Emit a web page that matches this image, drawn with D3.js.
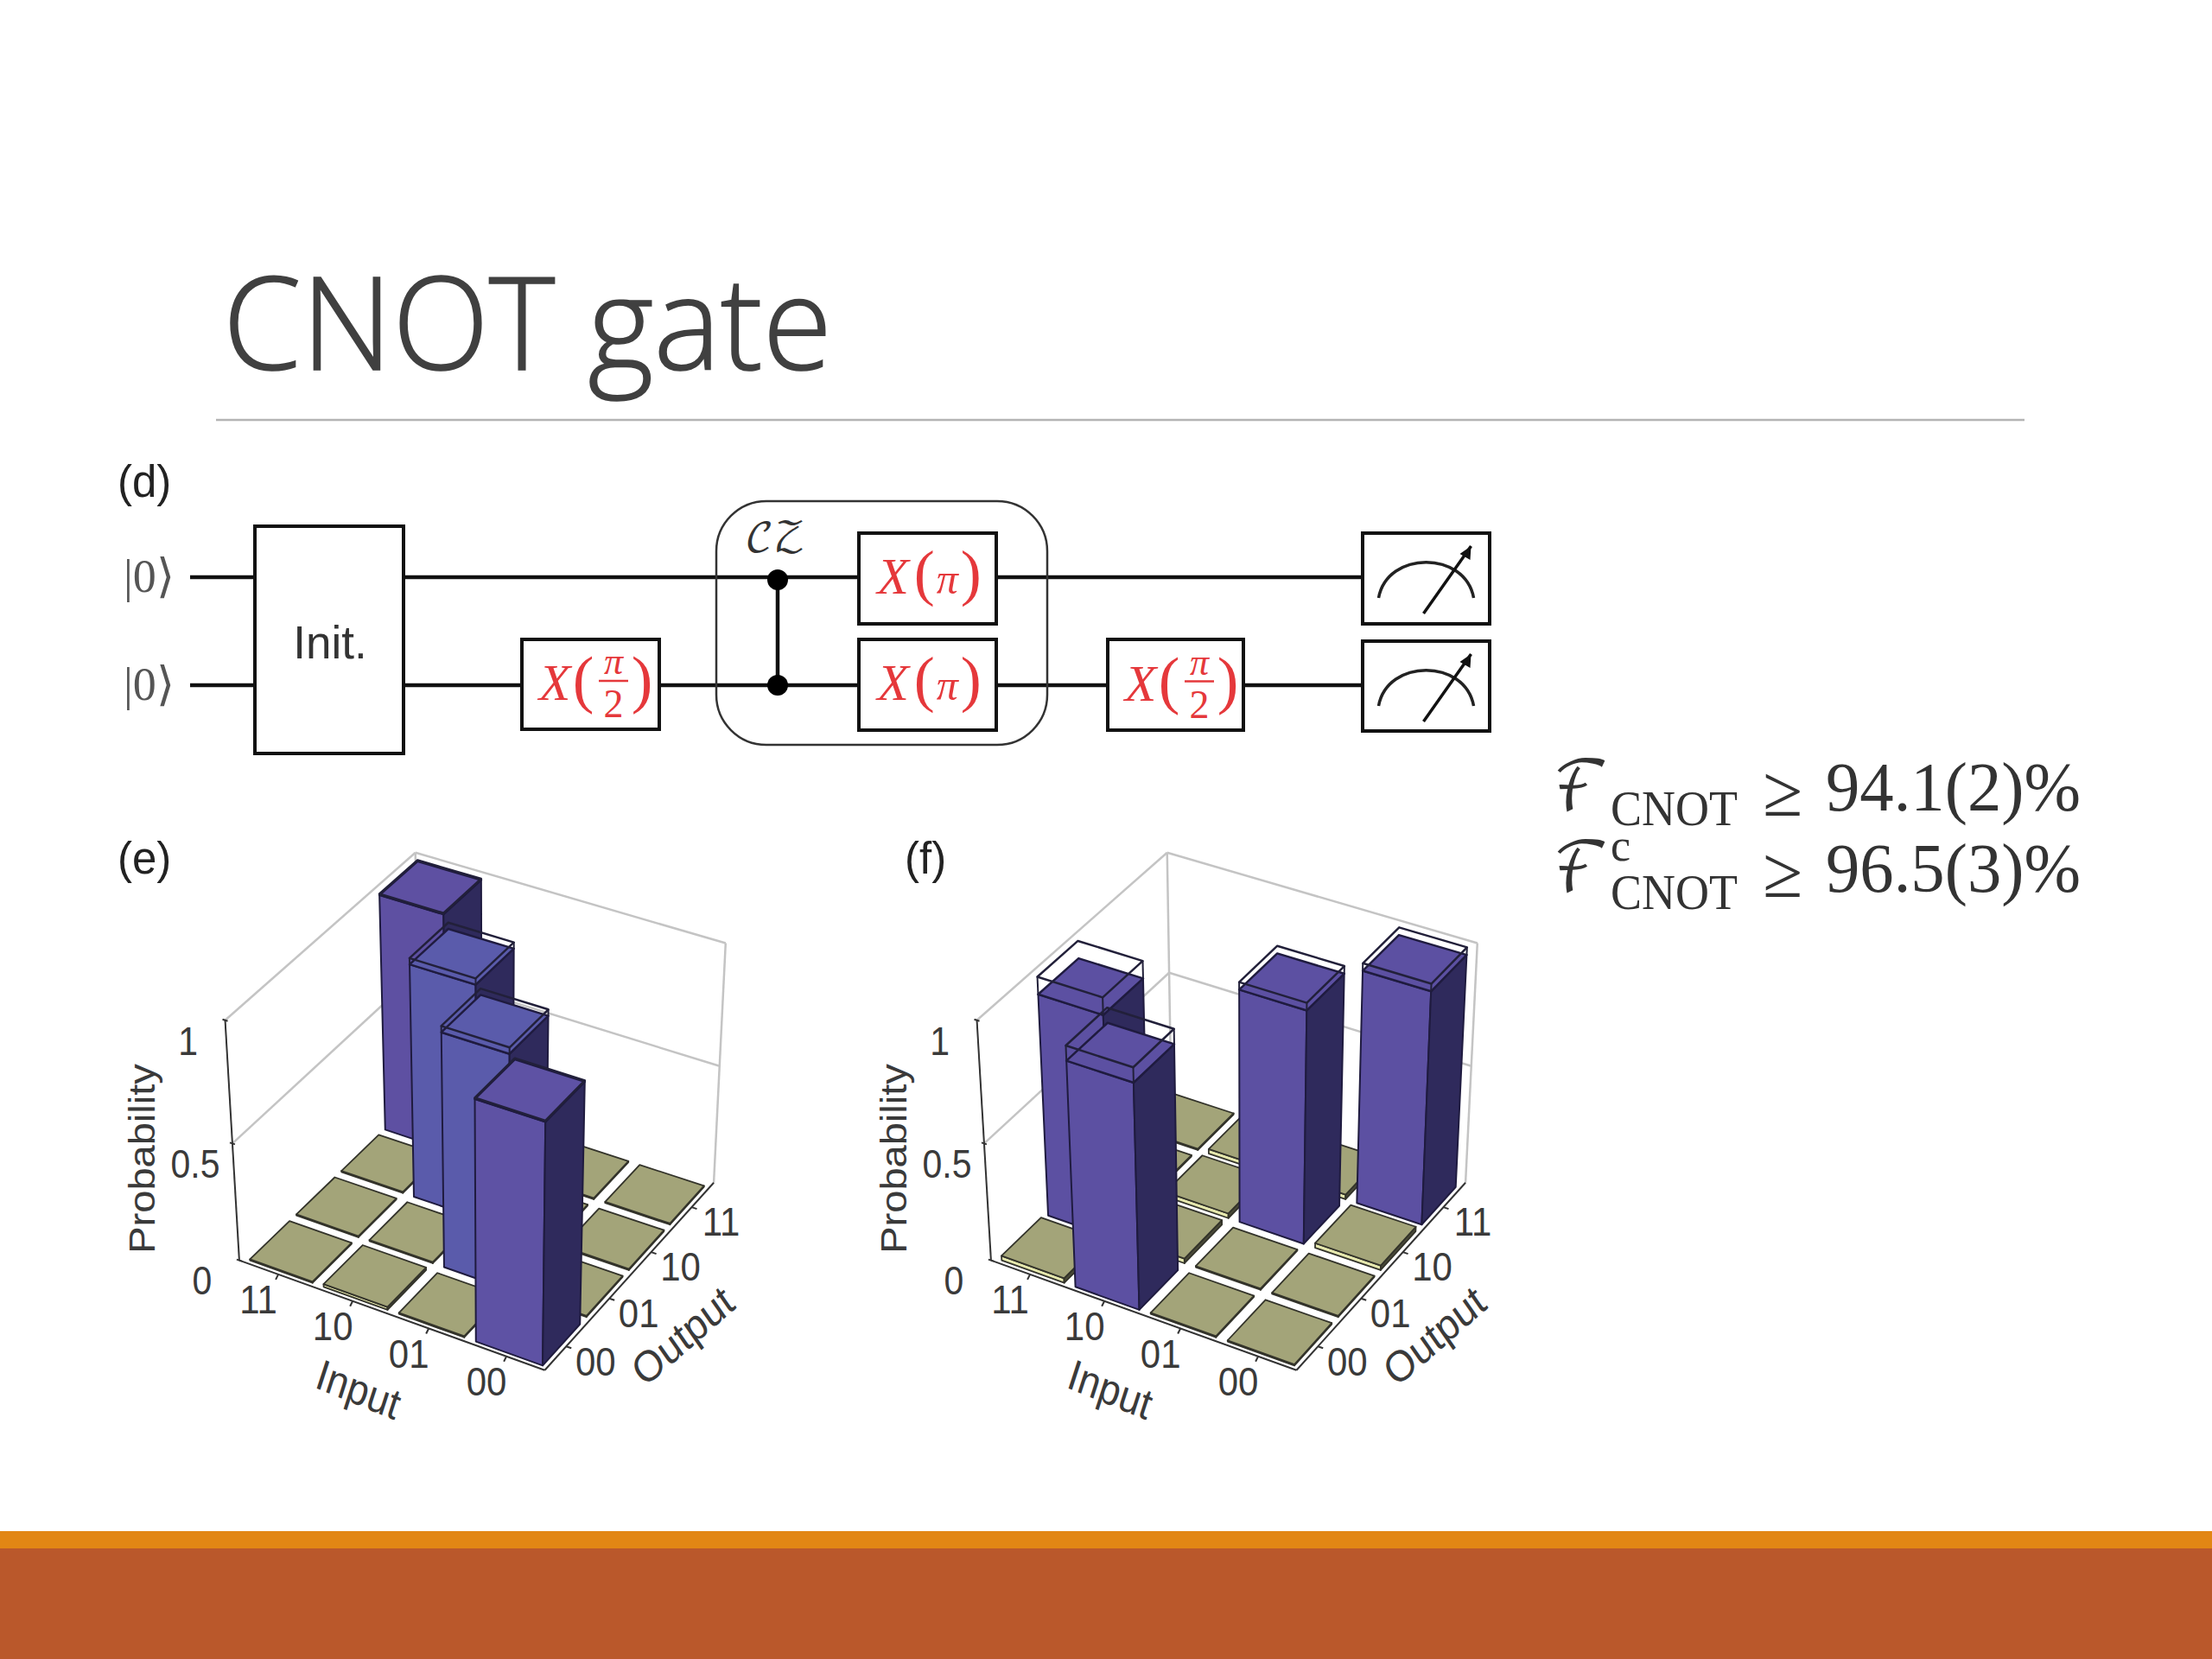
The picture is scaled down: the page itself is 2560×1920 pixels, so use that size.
<!DOCTYPE html>
<html>
<head>
<meta charset="utf-8">
<script src="https://cdn.jsdelivr.net/npm/d3@7"></script>
<style>
  html, body { margin: 0; background: #fff; }
  svg { display: block; }
  text { font-family: "Liberation Sans", Arial, sans-serif; }
  .serif { font-family: "Liberation Serif", "Times New Roman", serif; }
</style>
</head>
<body>
<svg id="slide" width="2560" height="1920"></svg>
<script>
// categories and tick labels
const inputLabels = ["11", "10", "01", "00"];
const outputLabels = ["00", "01", "10", "11"];
const zTicks = [0, 0.5, 1];
const zTickLabels = ["0", "0.5", "1"];

// measured probabilities, one row per input, columns follow outputLabels
const probE11 = [0.005, 0.005, 0.005, 0.995];
const probE10 = [0.012, 0.005, 0.975, 0.005];
const probE01 = [0.005, 0.975, 0.005, 0.005];
const probE00 = [0.995, 0.005, 0.005, 0.005];

const probF11 = [0.02, 0.93, 0.005, 0.005];
const probF10 = [0.94, 0.02, 0.02, 0.02];
const probF01 = [0.005, 0.005, 0.97, 0.02];
const probF00 = [0.005, 0.005, 0.02, 0.97];

// ideal truth tables, input -> output
const idealE = { "11": "11", "10": "10", "01": "01", "00": "00" };
const idealF = { "11": "01", "10": "00", "01": "10", "00": "11" };

const svg = d3.select("#slide");

// slide background
svg.append("rect").attr("width", 2560).attr("height", 1920).attr("fill", "#fff");
svg.append("rect").attr("x", 0).attr("y", 1772).attr("width", 2560).attr("height", 20).attr("fill", "#e28614");
svg.append("rect").attr("x", 0).attr("y", 1792).attr("width", 2560).attr("height", 128).attr("fill", "#ba582b");
svg.append("text").text("CNOT gate")
  .attr("transform", "translate(258,428) scale(1,1.07)")
  .attr("textLength", 705).attr("lengthAdjust", "spacingAndGlyphs")
  .style("font-family", "'Open Sans'").style("font-weight", 300).style("font-size", "139px")
  .attr("fill", "#404040").attr("stroke", "#404040").attr("stroke-width", 1.5);
svg.append("line").attr("x1", 250).attr("x2", 2343).attr("y1", 486).attr("y2", 486)
  .attr("stroke", "#b4b4b4").attr("stroke-width", 2.5);

// --- projection of the 3d box, fitted to its corners ---
const cornerFit = [
  // u, v, z, screen x, screen y  (u: input axis, v: output axis)
  [0, 0, 0, 277.6, 1458.5],
  [1, 0, 0, 633.2, 1587.5],
  [1, 1, 0, 824.5, 1367],
  [0, 1, 0, 483.7, 1258],
  [0, 0, 1, 260.7, 1182],
  [1, 0, 1, 630, 1299],
  [1, 1, 1, 842.3, 1094.5],
  [0, 1, 1, 481.6, 985.5]
];

function solve(A, b) {
  const n = b.length;
  const M = A.map((row, i) => row.concat(b[i]));
  for (let c = 0; c < n; c++) {
    let p = c;
    for (let r = c + 1; r < n; r++) if (Math.abs(M[r][c]) > Math.abs(M[p][c])) p = r;
    [M[c], M[p]] = [M[p], M[c]];
    for (let r = 0; r < n; r++) {
      if (r === c) continue;
      const f = M[r][c] / M[c][c];
      for (let k = c; k <= n; k++) M[r][k] -= f * M[c][k];
    }
  }
  return M.map((row, i) => row[n] / row[i]);
}

function fitProjection(points) {
  const rows = [], rhs = [];
  points.forEach(([u, v, z, sx, sy]) => {
    const x = sx / 1000, y = sy / 1000;
    rows.push([u, v, z, 1, 0, 0, 0, 0, -x * u, -x * v, -x * z]); rhs.push(x);
    rows.push([0, 0, 0, 0, u, v, z, 1, -y * u, -y * v, -y * z]); rhs.push(y);
  });
  const n = 11;
  const AtA = d3.range(n).map(i => d3.range(n).map(j => d3.sum(rows, r => r[i] * r[j])));
  const Atb = d3.range(n).map(i => d3.sum(rows, (r, k) => r[i] * rhs[k]));
  const p = solve(AtA, Atb);
  return (u, v, z) => {
    const w = p[8] * u + p[9] * v + p[10] * z + 1;
    return [
      1000 * (p[0] * u + p[1] * v + p[2] * z + p[3]) / w,
      1000 * (p[4] * u + p[5] * v + p[6] * z + p[7]) / w
    ];
  };
}

const project = fitProjection(cornerFit);
const inputScale = d3.scaleBand().domain(inputLabels).range([0.012, 1]).paddingInner(0.15).paddingOuter(0.06);
const outputScale = d3.scaleBand().domain(outputLabels).range([0, 0.982]).paddingInner(0.15).paddingOuter(0.06);
const zScale = d3.scaleLinear().domain([0, 1]).range([0, 1]);
const polyPath = d3.line();

function drawBars(panel, rows, ideal, frontColor) {
  const cells = [];
  inputLabels.forEach((input, i) => {
    outputLabels.forEach((output, j) => {
      cells.push({ input, output, value: rows[i][j], ideal: ideal[input] === output, depth: inputScale(input) - outputScale(output) });
    });
  });
  cells.sort((a, b) => a.depth - b.depth);

  const prism = (u0, u1, v0, v1, z) => ({
    top: [project(u0, v0, z), project(u1, v0, z), project(u1, v1, z), project(u0, v1, z)],
    front: [project(u0, v0, 0), project(u1, v0, 0), project(u1, v0, z), project(u0, v0, z)],
    side: [project(u1, v0, 0), project(u1, v1, 0), project(u1, v1, z), project(u1, v0, z)]
  });
  const face = (pts, fill, stroke, width) => panel.append("path")
    .attr("d", polyPath(pts) + "Z").attr("fill", fill)
    .attr("stroke", stroke).attr("stroke-width", width).attr("stroke-linejoin", "round");

  cells.forEach(c => {
    const u0 = inputScale(c.input), u1 = u0 + inputScale.bandwidth();
    const v0 = outputScale(c.output), v1 = v0 + outputScale.bandwidth();
    const p = prism(u0, u1, v0, v1, zScale(c.value));
    if (c.ideal) {
      face(p.front, frontColor(c.input), "#1f1b3f", 2);
      face(p.side, "#2f2a5c", "#1f1b3f", 2);
      face(p.top, frontColor(c.input), "#1f1b3f", 2.5);
      const w = prism(u0, u1, v0, v1, zScale(1));
      face(w.top, "none", "#22203a", 2.5);
      [[u0, v0], [u1, v0], [u1, v1]].forEach(([u, v]) => {
        panel.append("line")
          .attr("x1", project(u, v, zScale(c.value))[0]).attr("y1", project(u, v, zScale(c.value))[1])
          .attr("x2", project(u, v, zScale(1))[0]).attr("y2", project(u, v, zScale(1))[1])
          .attr("stroke", "#22203a").attr("stroke-width", 2);
      });
    } else {
      face(p.front, "#e6e8ae", "#33332a", 1.8);
      face(p.side, "#4a4a38", "#33332a", 1.8);
      face(p.top, "#a3a479", "#33332a", 1.8);
    }
  });
}

function stretched(panel, label, x, y, rot, size) {
  panel.append("text").text(label)
    .attr("transform", `translate(${x},${y}) scale(1,1.12) rotate(${rot})`)
    .attr("text-anchor", "middle").attr("dominant-baseline", "central")
    .style("font-size", size + "px").attr("fill", "#3a3a3a");
}

function drawPanel(offsetX, tag, tagX, rows, ideal, frontColor) {
  const panel = svg.append("g").attr("transform", `translate(${offsetX},0)`);
  const wall = (a, b, color, width) => panel.append("line")
    .attr("x1", a[0]).attr("y1", a[1]).attr("x2", b[0]).attr("y2", b[1])
    .attr("stroke", color).attr("stroke-width", width);

  // back walls
  const grey = "#c4c4c4";
  zTicks.slice(1).forEach(z => {
    wall(project(0, 0, z), project(0, 1, z), grey, 2.5);
    wall(project(0, 1, z), project(1, 1, z), grey, 2.5);
  });
  wall(project(0, 1, 0), project(0, 1, 1), grey, 2.5);
  wall(project(1, 1, 0), project(1, 1, 1), grey, 2.5);

  drawBars(panel, rows, ideal, frontColor);

  // box edges
  wall(project(0, 0, 0), project(0, 0, 1), "#333", 2);
  wall(project(0, 0, 0), project(1, 0, 0), "#333", 2);
  wall(project(1, 0, 0), project(1, 1, 0), "#333", 2);

  // ticks and labels
  zTicks.forEach((z, i) => {
    const p = project(0, 0, zScale(z));
    wall([p[0] - 3, p[1] - 1], [p[0] + 3, p[1] + 1], "#333", 2);
    stretched(panel, zTickLabels[i], p[0] - 43, p[1] + 24, 0, 41);
  });
  inputLabels.forEach(d => {
    const p = project(inputScale(d) + inputScale.bandwidth() / 2, 0, 0);
    wall(p, [p[0] - 3, p[1] + 6], "#333", 2);
    stretched(panel, d, p[0] - 23, p[1] + 29, 0, 42);
  });
  outputLabels.forEach(d => {
    const p = project(1, outputScale(d) + outputScale.bandwidth() / 2, 0);
    wall(p, [p[0] + 6, p[1] + 2], "#333", 2);
    stretched(panel, d, p[0] + 34, p[1] + 17, 0, 42);
  });

  stretched(panel, "Probability", 164, 1341, -90, 42);
  stretched(panel, "Input", 415, 1608, 20, 45);
  stretched(panel, "Output", 790, 1546, -38, 45);

  panel.append("text").text(tag).attr("x", tagX).attr("y", 1011)
    .style("font-size", "51px").attr("fill", "#222");
}

const frontE = d3.scaleOrdinal().domain(inputLabels).range(["#5e50a2", "#5a5bab", "#5a5bab", "#5e52a4"]);
const frontF = d3.scaleOrdinal().domain(inputLabels).range(["#5c50a2", "#5c50a2", "#5c50a2", "#5c50a2"]);
drawPanel(0, "(e)", 136, [probE11, probE10, probE01, probE00], idealE, frontE);
drawPanel(870, "(f)", 177, [probF11, probF10, probF01, probF00], idealF, frontF);

// --- circuit (d) ---
const circuit = svg.append("g");
const wireY = [668, 793];
const red = "#e5383b";

circuit.append("text").text("(d)").attr("x", 136).attr("y", 575)
  .style("font-size", "51px").attr("fill", "#222");

wireY.forEach((y, i) => {
  circuit.append("line").attr("x1", 220).attr("x2", 1577).attr("y1", y).attr("y2", y)
    .attr("stroke", "#111").attr("stroke-width", 4.5);
  circuit.append("text").text("|0⟩").attr("class", "serif")
    .attr("x", 143).attr("y", y + 17).style("font-size", "54px").attr("fill", "#555");
});

function box(x0, x1, y0, y1) {
  circuit.append("rect").attr("x", x0).attr("y", y0).attr("width", x1 - x0).attr("height", y1 - y0)
    .attr("fill", "#fff").attr("stroke", "#111").attr("stroke-width", 4);
}

box(295, 467, 609, 872);
circuit.append("text").text("Init.").attr("x", 382).attr("y", 762).attr("text-anchor", "middle")
  .style("font-size", "53px").attr("fill", "#333");

// CZ frame sits over the wires
circuit.append("rect").attr("x", 829).attr("y", 580).attr("width", 383).attr("height", 282)
  .attr("rx", 58).attr("ry", 58).attr("fill", "none").attr("stroke", "#333").attr("stroke-width", 2.5);
circuit.append("text").text("𝒞𝒵").attr("x", 862).attr("y", 638)
  .style("font-family", "'DejaVu Math TeX Gyre', 'DejaVu Serif', serif").style("font-size", "46px").attr("fill", "#333");
circuit.append("line").attr("x1", 900).attr("x2", 900).attr("y1", wireY[0]).attr("y2", wireY[1])
  .attr("stroke", "#111").attr("stroke-width", 4.5);
circuit.append("circle").attr("cx", 900).attr("cy", wireY[0] + 3).attr("r", 12).attr("fill", "#000");
circuit.append("circle").attr("cx", 900).attr("cy", wireY[1]).attr("r", 12).attr("fill", "#000");

function gatePi(x0, x1, y0, y1) {
  box(x0, x1, y0, y1);
  const cx = (x0 + x1) / 2 + 2, base = (y0 + y1) / 2 + 17;
  const t = circuit.append("text").attr("class", "serif").attr("x", cx).attr("y", base)
    .attr("text-anchor", "middle").attr("fill", red);
  t.append("tspan").text("X").style("font-style", "italic").style("font-size", "60px");
  t.append("tspan").text("(").attr("dx", 6).style("font-size", "72px");
  t.append("tspan").text("π").attr("dx", 2).style("font-style", "italic").style("font-size", "50px");
  t.append("tspan").text(")").attr("dx", 3).style("font-size", "72px");
}

function gateHalfPi(x0, x1, y0, y1) {
  box(x0, x1, y0, y1);
  const cy = (y0 + y1) / 2;
  const add = (s, x, y, size, italic) => circuit.append("text").text(s).attr("class", "serif")
    .attr("x", x).attr("y", y).attr("text-anchor", "middle")
    .style("font-size", size + "px").style("font-style", italic ? "italic" : "normal").attr("fill", red);
  add("X", x0 + 38, cy + 18, 60, true);
  add("(", x0 + 71, cy + 19, 74, false);
  add("π", x0 + 106, cy - 12, 44, true);
  circuit.append("line").attr("x1", x0 + 89).attr("x2", x0 + 123).attr("y1", cy - 4).attr("y2", cy - 4)
    .attr("stroke", red).attr("stroke-width", 2.5);
  add("2", x0 + 106, cy + 38, 46, false);
  add(")", x0 + 139, cy + 19, 74, false);
}

gateHalfPi(604, 763, 740, 844);
gatePi(994, 1153, 617, 722);
gatePi(994, 1153, 740, 845);
gateHalfPi(1282, 1439, 740, 845);

function meter(x0, x1, y0, y1) {
  box(x0, x1, y0, y1);
  const cx = (x0 + x1) / 2;
  circuit.append("path").attr("fill", "none").attr("stroke", "#222").attr("stroke-width", 3.5)
    .attr("d", `M${cx - 55},${y0 + 75} C${cx - 45},${y0 + 20} ${cx + 45},${y0 + 20} ${cx + 55},${y0 + 75}`);
  const tip = [cx + 52, y0 + 15], tail = [cx - 3, y0 + 93];
  circuit.append("line").attr("x1", tail[0]).attr("y1", tail[1]).attr("x2", tip[0]).attr("y2", tip[1])
    .attr("stroke", "#111").attr("stroke-width", 3.5);
  circuit.append("path").attr("fill", "#111")
    .attr("d", `M${tip[0]},${tip[1]} L${tip[0] - 13},${tip[1] + 9} L${tip[0] - 1},${tip[1] + 16}Z`);
}
meter(1577, 1724, 617, 722);
meter(1577, 1724, 742, 846);

// --- fidelity equations ---
const eq = svg.append("g").attr("class", "serif").attr("fill", "#333");
function eqText(s, x, y, size, opts = {}) {
  const t = eq.append("text").text(s).attr("class", "serif").attr("x", x).attr("y", y).style("font-size", size + "px");
  if (opts.len) t.attr("textLength", opts.len).attr("lengthAdjust", "spacingAndGlyphs");
  if (opts.font) t.style("font-family", opts.font);
  return t;
}
[
  { y: 938, sub: 955, sup: null, num: "94.1(2)%" },
  { y: 1032, sub: 1052, sup: 996, num: "96.5(3)%" }
].forEach(l => {
  eqText("ℱ", 1797, l.y, 80, { font: "'DejaVu Math TeX Gyre', 'DejaVu Serif', serif", len: 66 });
  eqText("CNOT", 1864, l.sub, 56, { len: 147 });
  if (l.sup) eqText("c", 1864, l.sup, 52);
  eqText("≥", 2040, l.y + 6, 84, { len: 46 });
  eqText(l.num, 2113, l.y, 80, { len: 295 });
});
</script>
</body>
</html>
